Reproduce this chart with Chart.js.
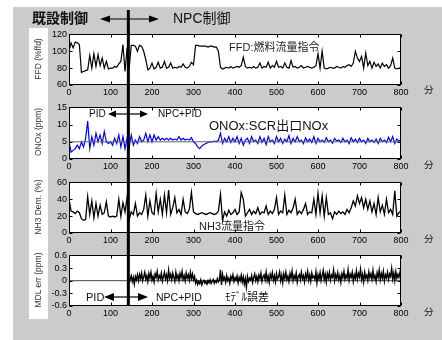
<html>
<head>
<title>既設制御 / NPC制御 トレンド</title>
<script src="https://cdn.jsdelivr.net/npm/chart.js"></script>
<script>
    // FFD / ONOx / NH3 sampled every 5 minutes, 0..800 min
    var STEP_MIN = 5;
    var SWITCH_MIN = 143;   // 既設制御 -> NPC制御
    var X_TICKS = [0, 100, 200, 300, 400, 500, 600, 700, 800];

    var FFD_TICKS = [60, 80, 100, 120];
    var FFD = [
        100, 110, 104, 111, 110, 108, 75, 76, 77, 78,
        95, 80, 97, 82, 96, 83, 92, 80, 88, 79,
        80, 80, 82, 81, 85, 88, 108, 76, 104, 80,
        107, 107, 106, 100, 107, 106, 100, 90, 78, 80,
        86, 79, 81, 87, 80, 81, 88, 80, 81, 86,
        80, 81, 80, 82, 81, 85, 81, 80, 82, 87,
        84, 107, 107, 106, 106, 106, 106, 105, 106, 106,
        105, 105, 100, 81, 79, 80, 81, 80, 82, 80,
        81, 82, 81, 83, 93, 82, 80, 81, 80, 82,
        80, 81, 86, 80, 82, 81, 87, 80, 83, 81,
        88, 81, 82, 80, 86, 81, 80, 89, 81, 82,
        80, 81, 83, 80, 81, 82, 81, 80, 81, 83,
        97, 80, 100, 80, 79, 80, 81, 80, 80, 82,
        81, 80, 82, 81, 83, 84, 82, 86, 100, 92,
        88, 94, 80, 98, 83, 88, 80, 87, 82, 85,
        80, 86, 82, 84, 80, 83, 92, 80, 79, 80,
        80
    ];

    var ONOX_TICKS = [0, 5, 10, 15];
    var ONOX = [
        5, 2, 2.5, 3, 4, 3, 5, 3.5, 6, 11,
        3, 6.5, 4, 7.5, 5, 7, 4.5, 8, 5, 4.5,
        5, 4, 6, 4.5, 7, 3.5, 6.5, 3, 6, 3.5,
        7, 4, 5.5, 4.5, 6.5, 5, 5.5, 7.5, 5, 7,
        5, 7, 5.5, 6.5, 5.5, 6, 5.5, 6, 5.5, 6,
        5.5, 5.8, 5.5, 6.5, 5.5, 6, 5.5, 5.8, 5.5, 6.2,
        5, 4.5, 3.5, 3, 3.8, 4.2, 4.5, 4.8, 5, 5,
        5.2, 5, 5.5, 7.5, 4.5, 6, 5, 6.5, 4.8, 6,
        5, 6.5, 4.5, 6, 4, 5.5, 6, 4.5, 6.5, 5,
        5.5, 4.5, 6.5, 4.8, 6, 4.2, 6.5, 5, 5.5, 4.5,
        6.5, 5, 6, 4.5, 5.8, 5, 6.8, 4.5, 6, 5,
        6.5, 5, 5.5, 4.5, 6.2, 5, 5.8, 4.8, 6.5, 4.5,
        6, 5, 5.5, 4.8, 6.2, 5, 5.5, 4.6, 6, 5.2,
        5.5, 4.8, 6, 5, 5.5, 4.5, 6.2, 5, 5.8, 4.8,
        6, 5, 5.5, 4.5, 6, 5, 5.5, 4.8, 5.8, 4.5,
        6, 5, 5.5, 4.8, 6.3, 5, 6.5, 4.5, 5.8, 5.2,
        5.5
    ];
    var ONOX_SETPOINT = 5;

    var NH3_TICKS = [0, 20, 40, 60];
    var NH3 = [
        40, 26, 25, 23, 26, 24, 17, 15, 16, 43,
        22, 38, 18, 35, 20, 33, 22, 24, 37, 20,
        19, 20, 19, 20, 40, 20, 36, 25, 42, 16,
        25, 22, 35, 20, 24, 22, 28, 45, 20, 38,
        24, 22, 47, 25, 40, 22, 45, 24, 51, 22,
        30, 42, 24, 28, 22, 40, 25, 23, 28, 48,
        25, 23, 22, 23, 24, 23, 22, 23, 24, 23,
        22, 23, 26, 46, 15, 25, 20, 27, 22, 24,
        28, 22, 25, 48, 40, 20, 24, 28, 22, 26,
        23, 30, 22, 25, 24, 32, 22, 26, 23, 28,
        42, 22, 26, 24, 45, 22, 27, 24, 30, 40,
        22, 26, 23, 28, 35, 22, 25, 24, 40, 22,
        47, 24, 44, 20, 42, 22, 24, 17, 25, 22,
        26, 23, 25, 22, 28, 24, 30, 38, 32, 44,
        35, 42, 30, 40, 28, 38, 25, 35, 22, 42,
        25, 33, 22, 40, 24, 28, 22, 50, 20, 24,
        26
    ];

    // model error only exists once NPC is running; sampled every 2.5 min from 145 min
    var MDL_START = 145;
    var MDL_STEP = 2.5;
    var MDL_TICKS = [-0.6, -0.3, 0, 0.3, 0.6];
    var MDL_ERR = [
        -0.06, 0.04, 0.12, -0.02, 0.08, -0.08, 0.1, 0.02, 0.14, 0.0,
        0.15, 0.05, 0.18, 0.0, 0.09, 0.2, 0.03, 0.12, -0.02, 0.17,
        0.06, 0.2, 0.01, 0.1, -0.03, 0.16, 0.08, 0.22, 0.02, 0.12,
        0.05, 0.18, -0.01, 0.1, 0.2, 0.04, 0.14, 0.0, 0.25, 0.06,
        0.15, 0.02, 0.18, 0.08, -0.02, 0.2, 0.05, 0.13, 0.0, 0.17,
        0.07, 0.22, 0.03, 0.12, -0.01, 0.18, 0.06, 0.14, 0.01, 0.2,
        0.05, 0.16, 0.02, 0.1, -0.06, 0.01, -0.09, -0.02, -0.07, 0.02,
        -0.1, -0.03, 0.01, -0.06, -0.02, -0.08, 0.0, -0.05, 0.02, -0.07,
        -0.02, 0.03, -0.06, 0.0, -0.04, 0.05, -0.03, 0.02, 0.26, -0.1,
        0.15, 0.02, 0.08, -0.04, 0.12, 0.0, 0.06, -0.06, 0.1, 0.03,
        0.14, -0.02, 0.07, 0.01, 0.11, -0.05, 0.08, 0.0, 0.13, -0.03,
        0.09, -0.08, 0.05, -0.15, 0.1, -0.02, 0.06, 0.01, 0.12, -0.04,
        0.08, 0.16, 0.0, 0.1, -0.03, 0.13, 0.05, 0.18, -0.02, 0.09,
        0.14, 0.02, 0.2, 0.0, 0.11, -0.04, 0.15, 0.06, 0.19, 0.01,
        0.12, -0.03, 0.17, 0.04, 0.1, 0.21, 0.0, 0.13, -0.05, 0.16,
        0.05, 0.2, 0.02, 0.11, -0.02, 0.17, 0.06, 0.23, 0.0, 0.12,
        0.04, 0.18, -0.04, 0.1, 0.15, 0.02, 0.2, 0.05, 0.12, -0.03,
        0.16, 0.06, 0.22, 0.01, 0.13, -0.02, 0.18, 0.07, 0.11, 0.03,
        0.21, -0.05, 0.14, 0.04, 0.19, 0.0, 0.12, 0.24, 0.02, 0.15,
        -0.03, 0.17, 0.06, 0.2, 0.01, 0.13, 0.08, 0.25, 0.0, 0.14,
        0.05, 0.19, 0.02, 0.12, -0.04, 0.16, 0.07, 0.22, 0.03, 0.13,
        0.06, 0.26, 0.01, 0.15, 0.08, 0.2, -0.02, 0.14, 0.05, 0.23,
        0.03, 0.17, 0.09, 0.27, 0.02, 0.15, -0.03, 0.2, 0.06, 0.13,
        0.0, 0.21, 0.07, 0.16, 0.03, 0.24, 0.05, 0.12, -0.02, 0.19,
        0.08, 0.25, 0.02, 0.17, 0.06, 0.22, -0.01, 0.14, 0.07, 0.2,
        0.03, 0.16, 0.1, 0.29, 0.04, 0.18, 0.0, 0.21, 0.06, 0.15,
        0.08, 0.2, 0.1
    ];
    var MDL_ZERO = 0;
</script>
<style>
    body {
        margin: 0;
        width: 442px;
        height: 340px;
        position: relative;
        overflow: hidden;
        background: #fff;
        font-family: "Liberation Sans", "Noto Sans CJK JP", sans-serif;
    }

    .bg {
        position: absolute;
        left: 13px;
        top: 7px;
        width: 429px;
        height: 333px;
        background: #cbcbcb;
    }

    .strip {
        position: absolute;
        left: 29px;
        top: 28px;
        width: 19px;
        height: 291px;
        background: #fff;
    }

    canvas {
        position: absolute;
        left: 0;
    }

    svg {
        position: absolute;
        left: 0;
        top: 0;
    }

    .t {
        position: absolute;
        white-space: nowrap;
        line-height: 1;
        color: #111;
        transform: translateY(-50%);
    }

    .ytitle {
        position: absolute;
        left: 38px;
        white-space: nowrap;
        line-height: 1;
        font-size: 8.5px;
        color: #333;
        transform: translate(-50%, -50%) rotate(-90deg);
    }
</style>
</head>

<body>
    <div class="bg"></div>
    <div class="strip"></div>

    <canvas id="c1" width="442" height="74" style="top:27px"></canvas>
    <canvas id="c2" width="442" height="75" style="top:100px"></canvas>
    <canvas id="c3" width="442" height="74" style="top:175px"></canvas>
    <canvas id="c4" width="442" height="74" style="top:248px"></canvas>

    <div class="ytitle" style="top:59px">FFD (%ffd)</div>
    <div class="ytitle" style="top:132px">ONOx (ppm)</div>
    <div class="ytitle" style="top:207px">NH3 Dem. (%)</div>
    <div class="ytitle" style="top:280px">MDL err (ppm)</div>

    <svg id="overlay" width="442" height="340"></svg>

    <div class="t" style="left:32px; top:18px; font-size:14px; font-weight:bold">既設制御</div>
    <div class="t" style="left:173px; top:18px; font-size:14px">NPC制御</div>
    <div class="t" style="left:229px; top:47px; font-size:11px; color:#222">FFD:燃料流量指令</div>
    <div class="t" style="left:89px; top:114px; font-size:10px">PID</div>
    <div class="t" style="left:158px; top:114px; font-size:10px">NPC+PID</div>
    <div class="t" style="left:209px; top:125px; font-size:13px">ONOx:SCR出口NOx</div>
    <div class="t" style="left:199px; top:226px; font-size:11px; color:#222">NH3流量指令</div>
    <div class="t" style="left:86px; top:297px; font-size:11px">PID</div>
    <div class="t" style="left:156px; top:297px; font-size:10.5px">NPC+PID</div>
    <div class="t" style="left:225px; top:297px; font-size:11px">ﾓﾃﾞﾙ誤差</div>
    <div class="t" style="left:424px; top:90px; font-size:9.5px">分</div>
    <div class="t" style="left:424px; top:165px; font-size:9.5px">分</div>
    <div class="t" style="left:424px; top:239px; font-size:9.5px">分</div>
    <div class="t" style="left:424px; top:312px; font-size:9.5px">分</div>

    <script>
        Chart.defaults.font.family = '"Liberation Sans", Arial, sans-serif';

        function toPoints(values, start, step) {
            return values.map(function (v, i) { return { x: start + i * step, y: v }; });
        }

        function flatLine(level) {
            return [{ x: X_TICKS[0], y: level }, { x: X_TICKS[X_TICKS.length - 1], y: level }];
        }

        function fixedTicks(list) {
            return function (s) {
                s.ticks = list.map(function (v) { return { value: v }; });
            };
        }

        // white plot area, black frame and inward ticks (MATLAB look)
        var framePlugin = {
            id: 'frame',
            beforeDraw: function (chart) {
                var a = chart.chartArea, ctx = chart.ctx;
                ctx.save();
                ctx.fillStyle = '#fff';
                ctx.fillRect(a.left, a.top, a.right - a.left, a.bottom - a.top);
                ctx.restore();
            },
            afterDraw: function (chart) {
                var a = chart.chartArea, ctx = chart.ctx;
                var xs = chart.scales.x, ys = chart.scales.y;
                var l = Math.round(a.left) + 0.5, r = Math.round(a.right) - 0.5;
                var t = Math.round(a.top) + 0.5, b = Math.round(a.bottom) - 0.5;
                ctx.save();
                ctx.strokeStyle = '#000';
                ctx.lineWidth = 1;
                ctx.beginPath();
                xs.ticks.forEach(function (tk) {
                    var px = Math.round(xs.getPixelForValue(tk.value)) + 0.5;
                    ctx.moveTo(px, t); ctx.lineTo(px, t + 3);
                    ctx.moveTo(px, b); ctx.lineTo(px, b - 3);
                });
                ys.ticks.forEach(function (tk) {
                    var py = Math.round(ys.getPixelForValue(tk.value)) + 0.5;
                    ctx.moveTo(l, py); ctx.lineTo(l + 3, py);
                    ctx.moveTo(r, py); ctx.lineTo(r - 3, py);
                });
                ctx.stroke();
                ctx.strokeRect(l, t, r - l, b - t);
                ctx.restore();
            }
        };

        function fmtTick(v) {
            if (Math.abs(v) < 1e-9) return '0';
            return String(Math.round(v * 10) / 10);
        }

        function makePanel(id, yTicks, datasets) {
            return new Chart(document.getElementById(id), {
                type: 'line',
                data: { datasets: datasets },
                plugins: [framePlugin],
                options: {
                    responsive: false,
                    animation: false,
                    layout: { padding: { left: 0, right: 41, top: 6, bottom: 0 } },
                    plugins: { legend: { display: false }, tooltip: { enabled: false } },
                    elements: { point: { radius: 0 }, line: { tension: 0 } },
                    scales: {
                        x: {
                            type: 'linear',
                            min: X_TICKS[0],
                            max: X_TICKS[X_TICKS.length - 1],
                            afterBuildTicks: fixedTicks(X_TICKS),
                            ticks: { font: { size: 9 }, color: '#000', padding: 2, maxRotation: 0, autoSkip: false },
                            grid: { display: false, drawTicks: false },
                            border: { display: false },
                            afterFit: function (s) { s.height = 16; }
                        },
                        y: {
                            min: yTicks[0],
                            max: yTicks[yTicks.length - 1],
                            afterBuildTicks: fixedTicks(yTicks),
                            ticks: { font: { size: 9 }, color: '#000', padding: 2, autoSkip: false, callback: fmtTick },
                            grid: { display: false, drawTicks: false },
                            border: { display: false },
                            afterFit: function (s) { s.width = 69; }
                        }
                    }
                }
            });
        }

        var chart1 = makePanel('c1', FFD_TICKS, [
            { data: toPoints(FFD, 0, STEP_MIN), borderColor: '#000', borderWidth: 1.2 }
        ]);

        makePanel('c2', ONOX_TICKS, [
            { data: flatLine(ONOX_SETPOINT), borderColor: '#666', borderWidth: 1 },
            { data: toPoints(ONOX, 0, STEP_MIN), borderColor: '#0000ff', borderWidth: 1.2 }
        ]);

        makePanel('c3', NH3_TICKS, [
            { data: toPoints(NH3, 0, STEP_MIN), borderColor: '#000', borderWidth: 1.3 }
        ]);

        makePanel('c4', MDL_TICKS, [
            { data: toPoints(MDL_ERR, MDL_START, MDL_STEP), borderColor: '#000', borderWidth: 1.4 },
            { data: flatLine(MDL_ZERO), borderColor: '#444', borderWidth: 1 }
        ]);

        // overlay: switch-over line and the double arrows
        var NS = 'http://www.w3.org/2000/svg';
        var svg = document.getElementById('overlay');

        function svgEl(tag, attrs) {
            var el = document.createElementNS(NS, tag);
            for (var k in attrs) el.setAttribute(k, attrs[k]);
            svg.appendChild(el);
            return el;
        }

        function arrow(x1, x2, y, len, half) {
            svgEl('line', { x1: x1 + len - 1, y1: y, x2: x2 - len + 1, y2: y, stroke: '#000', 'stroke-width': 1.2 });
            svgEl('polygon', { points: x1 + ',' + y + ' ' + (x1 + len) + ',' + (y - half) + ' ' + (x1 + len) + ',' + (y + half), fill: '#000' });
            svgEl('polygon', { points: x2 + ',' + y + ' ' + (x2 - len) + ',' + (y - half) + ' ' + (x2 - len) + ',' + (y + half), fill: '#000' });
        }

        var switchX = chart1.scales.x.getPixelForValue(SWITCH_MIN);
        svgEl('line', { x1: switchX, y1: 10, x2: switchX, y2: 306, stroke: '#000', 'stroke-width': 3 });

        arrow(100, 159, 19, 10, 3.5);
        arrow(108, 148, 114, 8, 3.5);
        arrow(104, 148, 297, 10, 4);
    </script>
</body>
</html>
